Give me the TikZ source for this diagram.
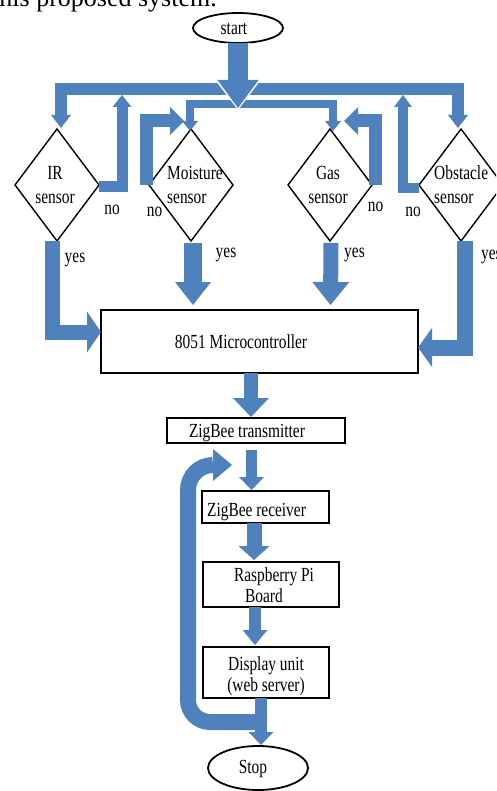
\documentclass[tikz,border=0pt]{standalone}
\usepackage{fontspec}
\newfontfamily\cf{Liberation Serif}[FakeStretch=0.77]
\newfontfamily\capf{Liberation Serif}
\usetikzlibrary{shapes.geometric,arrows.meta,calc}
\definecolor{blueA}{RGB}{79,129,189}
\tikzset{
  barrow/.style={draw=blueA, line width=#1, line join=miter, line cap=butt},
  bh/.style 2 args={-{Triangle[width=#1,length=#2,line width=0pt]}},
  box/.style={draw, line width=1.8pt, inner sep=0pt, outer sep=0pt},
  dia/.style={draw, diamond, line width=1.4pt, inner sep=0pt, outer sep=0pt, minimum width=84pt, minimum height=112pt},
  oval/.style={draw, ellipse, line width=1.8pt, inner sep=0pt, outer sep=0pt},
  lbl/.style={font=\cf\fontsize{20}{24}\selectfont, inner sep=0pt, anchor=base},
  lbll/.style={lbl, anchor=base west}
}
\begin{document}
\begin{tikzpicture}[x=1pt,y=-1pt]
\useasboundingbox (0,0) rectangle (496,791);
\clip (0,0) rectangle (496,791);

% caption fragment
\node[anchor=base east, font=\capf\fontsize{26}{30}\selectfont, inner sep=0pt] (cap) at (217,7) {this proposed system.};

% nodes
\node[oval, minimum width=90pt, minimum height=30pt] (start) at (238,28) {};
\node[lbl] (tstart) at (234,35) {start};

\node[dia] (ir) at (57,185) {};
\node[dia] (moist) at (191,185) {};
\node[dia] (gas) at (330,185) {};
\node[dia] (obst) at (461,185) {};

\node[box, minimum width=317pt, minimum height=63pt] (mc) at (259.5,341.5) {};
\node[box, minimum width=178pt, minimum height=25pt] (zt) at (256,430.5) {};
\node[box, minimum width=127pt, minimum height=32pt] (zr) at (265.5,507) {};
\node[box, minimum width=136pt, minimum height=45pt] (rp) at (271,584.5) {};
\node[box, minimum width=126pt, minimum height=51pt] (du) at (266,672.5) {};
\node[oval, minimum width=100pt, minimum height=44pt] (stop) at (258,768) {};

% texts
\node[lbl] (tir1) at (55,180) {IR};
\node[lbl] (tir2) at (55,204) {sensor};
\node[lbll] (tmo1) at (167,180) {Moisture};
\node[lbll] (tmo2) at (167,204) {sensor};
\node[lbl] (tga1) at (328,180) {Gas};
\node[lbl] (tga2) at (328,204) {sensor};
\node[lbll] (tob1) at (434,180) {Obstacle};
\node[lbll] (tob2) at (434,204) {sensor};

\node[lbl] (no1) at (112,215) {no};
\node[lbl] (no2) at (154.5,217) {no};
\node[lbl] (no3) at (375.5,212) {no};
\node[lbl] (no4) at (413,216.5) {no};
\node[lbl] (yes1) at (75,262) {yes};
\node[lbl] (yes2) at (226,258) {yes};
\node[lbl] (yes3) at (354.5,258) {yes};
\node[lbll] (yes4) at (481,259) {yes};

\node[lbl] (tmc) at (241,348) {8051 Microcontroller};
\node[lbl] (tzt) at (247,437) {ZigBee transmitter};
\node[lbl] (tzr) at (256.5,516) {ZigBee receiver};
\node[lbl] (trp1) at (274,581) {Raspberry Pi};
\node[lbl] (trp2) at (264,602) {Board};
\node[lbl] (tdu1) at (266,670) {Display unit};
\node[lbl] (tdu2) at (266,691) {(web server)};
\node[lbl] (tstop) at (253,773) {Stop};

% distribution bars from start
\coordinate (hubo) at ($(start.south)+(0,46)$);
\coordinate (hubi) at ($(start.south)+(0,61)$);
\draw[barrow=12pt, bh={20pt}{13pt}] (hubo) -| ($(ir.north)+(4,-1)$);
\draw[barrow=12pt, bh={20pt}{13pt}] (hubo) -| ($(obst.north)+(-3,-1)$);
\draw[barrow=8pt, bh={16pt}{10pt}] (hubi) -| ($(moist.north)+(-1,2)$);
\draw[barrow=8pt, bh={16pt}{10pt}] (hubi) -| ($(gas.north)+(3,2)$);
\draw[white, line width=24pt, line cap=butt, bh={47pt}{31pt}] (start.south) -- ($(start.south)+(0,67)$);
\draw[barrow=20pt, bh={41pt}{28pt}] (start.south) -- ($(start.south)+(0,65)$);

% "no" loops
\draw[barrow=11pt, bh={19pt}{12pt}] ($(ir.east)+(0,2)$) -| (122,95);
\draw[barrow=13pt, bh={28pt}{14pt}] ($(moist.west)+(-3,0)$) |- (184,121);
\draw[barrow=13pt, bh={28pt}{14pt}] ($(gas.east)+(3,0)$) |- (344,121);
\draw[barrow=10pt, bh={18pt}{12pt}] ($(obst.west)+(0,3)$) -| (403,95);

% "yes" arrows into the microcontroller
\draw[barrow=15pt, bh={41pt}{14pt}] ($(ir.south)+(-5,0)$) |- ($(mc.west)+(0,-9.5)$);
\draw[barrow=16pt, bh={39pt}{14pt}] ($(obst.south)+(3.5,0)$) |- ($(mc.east)+(0,6)$);
\draw[barrow=18pt, bh={36pt}{23pt}] ($(moist.south)+(2,2)$) -- ($(mc.north)+(-66.5,-5)$);
\draw[barrow=15pt, bh={37pt}{23pt}] ($(gas.south)+(1,2)$) -- ($(mc.north)+(71,-5)$);

% chain down
\draw[barrow=14pt, bh={36pt}{19pt}] ($(mc.south)+(-8.5,0)$) -- ($(zt.north)+(-5,-1)$);
\draw[barrow=11pt, bh={25pt}{13pt}] ($(zt.south)+(-4.5,7)$) -- ($(zr.north)+(-14,-1)$);
\draw[barrow=15pt, bh={31pt}{14pt}] ($(zr.south)+(-11.5,0)$) -- ($(rp.north)+(-17,-2)$);
\draw[barrow=12pt, bh={25pt}{15pt}] ($(rp.south)+(-16,0)$) -- ($(du.north)+(-11,-2)$);

% loop back
\draw[barrow=16pt, bh={32pt}{19pt}] (261,722) -- (210,722) arc[start angle=90, end angle=180, radius=22] -- (188,490) arc[start angle=180, end angle=270, radius=25] -- (232,465);
\draw[barrow=12pt, bh={25pt}{13pt}] ($(du.south)+(-5,0)$) -- ($(stop.north)+(3,-1)$);
\end{tikzpicture}
\end{document}
